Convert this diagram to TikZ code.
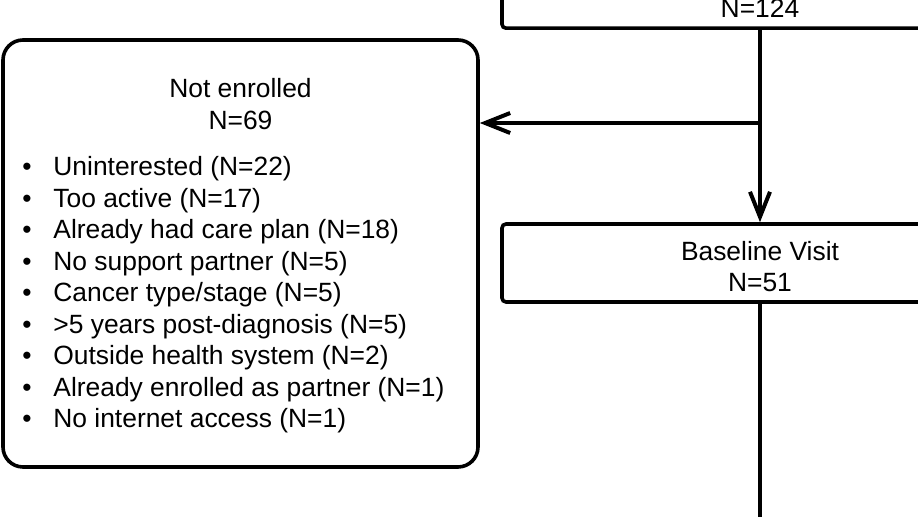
\documentclass[tikz,border=0pt]{standalone}
\usepackage{fontspec}
\setmainfont{Liberation Sans}
\usetikzlibrary{arrows.meta}
\tikzset{
  flowbox/.style={draw, line width=1.8pt, rounded corners=2pt, minimum width=258pt, inner sep=0pt},
  notbox/.style={draw, line width=1.8pt, rounded corners=10pt, inner sep=0pt},
  lbl/.style={anchor=base, inner sep=0pt, font=\fontsize{13.2pt}{15.75pt}\selectfont},
  conn/.style={line width=2pt, -{Straight Barb[length=12.5pt, width=10pt]}},
  plain/.style={line width=2pt}
}
\begin{document}
\begin{tikzpicture}[x=0.5pt, y=-0.5pt]
\useasboundingbox (0,0) rectangle (918,517);
\clip (0,0) rectangle (918,517);

% boxes
\node[flowbox, minimum height=100pt, anchor=south] (screened) at (760,30) {};
\node[flowbox, minimum height=39pt] (baseline) at (760,263) {};
\node[notbox, minimum width=237.5pt, minimum height=213.5pt] (notenr) at (240.5,253.5) {};

% texts
\node[lbl] (screenedn) at (760,17.5) {N=124};
\node[lbl] (basettl) at (760,261) {Baseline Visit};
\node[lbl] (basen) at (760,292) {N=51};
\node[lbl] (notttl) at (240.5,98) {Not enrolled};
\node[lbl] (notn) at (240.5,130) {N=69};
\foreach \reason [count=\i from 0] in {Uninterested (N=22), Too active (N=17),
    Already had care plan (N=18), No support partner (N=5), Cancer type/stage (N=5),
    >5 years post-diagnosis (N=5), Outside health system (N=2),
    Already enrolled as partner (N=1), No internet access (N=1)} {
  \node[lbl] (dot\i) at (27,176+31.5*\i) {\textbullet};
  \node[lbl, anchor=base west] (reason\i) at (53,176+31.5*\i) {\reason};
}

% connectors
\coordinate (split) at (760,123);
\coordinate (outend) at (760,530);
\draw[conn] (screened.south) -- (baseline.north);
\draw[conn] (split) -- (split -| notenr.east);
\draw[plain] (baseline.south) -- (outend);

\end{tikzpicture}
\end{document}
